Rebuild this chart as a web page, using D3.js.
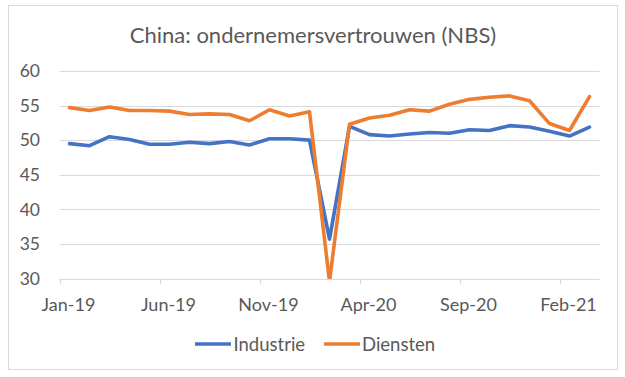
<html>
<head>
<meta charset="utf-8" />
<script src="https://d3js.org/d3.v7.min.js"></script>
<style>
  body { margin: 0; background: #fff; }
  text { font-family: Lato, "Open Sans", sans-serif; fill: #595959; }
</style>
</head>
<body>
<svg id="chart" width="625" height="377"></svg>
<script>
// maanden Jan-19 .. Mar-21
let months = ["Jan-19","Feb-19","Mar-19","Apr-19","May-19","Jun-19","Jul-19","Aug-19","Sep-19","Oct-19","Nov-19","Dec-19",
              "Jan-20","Feb-20","Mar-20","Apr-20","May-20","Jun-20","Jul-20","Aug-20","Sep-20","Oct-20","Nov-20","Dec-20",
              "Jan-21","Feb-21","Mar-21"]
let tickLabels = ["Jan-19","Jun-19","Nov-19","Apr-20","Sep-20","Feb-21"]
let yTicks = [30,35,40,45,50,55,60]

let industrie = [49.5,49.2,50.5,50.1,49.4,49.4,49.7,49.5,49.8,49.3,50.2,50.2,
                 50.0,35.7,52.0,50.8,50.6,50.9,51.1,51.0,51.5,51.4,52.1,51.9,
                 51.3,50.6,51.9]
let diensten  = [54.7,54.3,54.8,54.3,54.3,54.2,53.7,53.8,53.7,52.8,54.4,53.5,
                 54.1,29.6,52.3,53.2,53.6,54.4,54.2,55.2,55.9,56.2,56.4,55.7,
                 52.4,51.4,56.3]

let series = [
  {name: "Industrie", values: industrie, color: "#4472C4"},
  {name: "Diensten", values: diensten, color: "#ED7D31"}
]

let svg = d3.select("#chart")

// kader
svg.append("rect")
  .attr("x", 8.5).attr("y", 5.5).attr("width", 609).attr("height", 364)
  .attr("fill", "#fff").attr("stroke", "#d9d9d9").attr("stroke-width", 1)

svg.append("text")
  .attr("x", 313).attr("y", 42.5)
  .attr("text-anchor", "middle")
  .style("font-size", "22px")
  .text("China: ondernemersvertrouwen (NBS)")

let x = d3.scaleBand().domain(months).range([59.5, 599.5]).padding(0)
let y = d3.scaleLinear().domain([30, 60]).range([278.5, 71])

// gridlijnen
svg.append("g").selectAll("line").data(yTicks).enter()
  .append("line")
  .attr("x1", 59.5).attr("x2", 599.5)
  .attr("y1", d => Math.round(y(d)) + 0.5).attr("y2", d => Math.round(y(d)) + 0.5)
  .attr("stroke", "#d9d9d9").attr("stroke-width", 1)

svg.append("g").selectAll("text").data(yTicks).enter()
  .append("text")
  .attr("x", 40).attr("y", d => y(d) + 6.3)
  .attr("text-anchor", "end")
  .style("font-size", "17.5px")
  .text(d => d)

// x-as tickmarks en labels
let ax = svg.append("g")
ax.selectAll("line").data(tickLabels).enter()
  .append("line")
  .attr("x1", d => Math.round(x(d)) + 0.5).attr("x2", d => Math.round(x(d)) + 0.5)
  .attr("y1", 278.5).attr("y2", 284)
  .attr("stroke", "#d9d9d9")
ax.selectAll("text").data(tickLabels).enter()
  .append("text")
  .attr("x", d => x(d) + x.bandwidth() / 2 - 1)
  .attr("y", 311)
  .attr("text-anchor", "middle")
  .style("font-size", "18px")
  .text(d => d)

svg.append("clipPath").attr("id", "plotclip")
  .append("rect").attr("x", 50).attr("y", 60).attr("width", 560).attr("height", 219)

let line = d3.line()
  .x((d, i) => x(months[i]) + x.bandwidth() / 2)
  .y(d => y(d))

svg.append("g").attr("clip-path", "url(#plotclip)")
  .selectAll("path").data(series).enter()
  .append("path")
  .attr("d", d => line(d.values))
  .attr("fill", "none")
  .attr("stroke", d => d.color)
  .attr("stroke-width", 3.6)
  .attr("stroke-linejoin", "round")
  .attr("stroke-linecap", "round")

// legenda
let legendPos = [{lx: 195, tx: 233.5}, {lx: 324, tx: 362}]
let lg = svg.append("g").selectAll("g").data(series).enter().append("g")
lg.append("line")
  .attr("x1", (d, i) => legendPos[i].lx).attr("x2", (d, i) => legendPos[i].lx + 36)
  .attr("y1", 344).attr("y2", 344)
  .attr("stroke", d => d.color).attr("stroke-width", 3.6)
lg.append("text")
  .attr("x", (d, i) => legendPos[i].tx).attr("y", 350.5)
  .style("font-size", "18.5px")
  .text(d => d.name)
</script>
</body>
</html>
